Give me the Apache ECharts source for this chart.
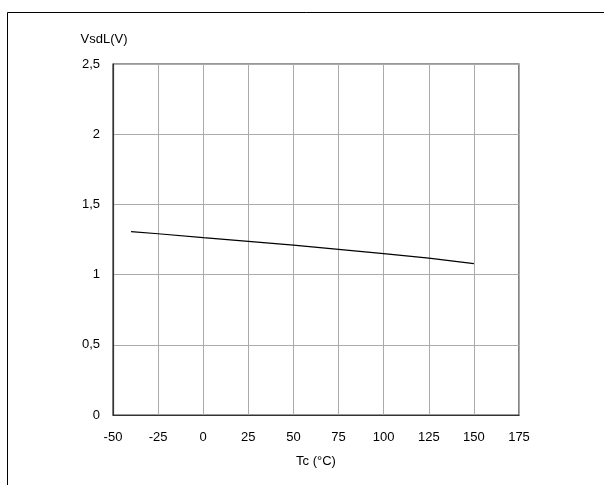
<!DOCTYPE html>
<html>
<head>
<meta charset="utf-8">
<script src="https://cdn.jsdelivr.net/npm/echarts@6/dist/echarts.min.js"></script>
<style>html,body{margin:0;padding:0;background:#fff}#c{width:604px;height:485px}</style>
</head>
<body>
<div id="c"></div>
<script>
var temps = [-40, -25, 0, 25, 50, 75, 100, 125, 150];
var vsdl = [1.306, 1.291, 1.263, 1.237, 1.21, 1.18, 1.15, 1.118, 1.078];
var xName = 'Tc (°C)';
var yName = 'VsdL(V)';

var chart = echarts.init(document.getElementById('c'));
var font = 'Liberation Sans, Arial, Helvetica, sans-serif';
chart.setOption({
  animation: false,
  backgroundColor: '#fff',
  graphic: [{
    type: 'rect', left: 5, top: 10, silent: true,
    shape: {width: 700, height: 600},
    style: {fill: 'none', stroke: '#000', lineWidth: 1}
  }],
  grid: {left: 113, right: 85, top: 64, bottom: 70, show: true, borderColor: '#333', borderWidth: 1.2, backgroundColor: 'transparent'},
  xAxis: {
    type: 'value', min: -50, max: 175, interval: 25,
    name: xName, nameLocation: 'middle', nameGap: 40,
    nameTextStyle: {fontFamily: font, fontSize: 13, color: '#000'},
    axisLine: {show: true, onZero: false, lineStyle: {color: '#333', width: 1.2}},
    axisTick: {show: false},
    axisLabel: {fontFamily: font, fontSize: 13, color: '#000', margin: 16},
    splitLine: {show: true, lineStyle: {color: '#aaa', width: 1}}
  },
  yAxis: {
    type: 'value', min: 0, max: 2.5, interval: 0.5,
    name: yName, nameLocation: 'end', nameGap: 18,
    nameTextStyle: {fontFamily: font, fontSize: 13, color: '#000', align: 'center', padding: [0, 18, 0, 0]},
    axisLine: {show: true, onZero: false, lineStyle: {color: '#333', width: 1.2}},
    axisTick: {show: false},
    axisLabel: {fontFamily: font, fontSize: 13, color: '#000', margin: 13,
      formatter: function (v) { return String(v).replace('.', ','); }},
    splitLine: {show: true, lineStyle: {color: '#aaa', width: 1}}
  },
  series: [{
    type: 'line',
    data: temps.map(function (t, i) { return [t, vsdl[i]]; }),
    showSymbol: false, symbol: 'none',
    lineStyle: {color: '#000', width: 1.2}
  }]
});
</script>
</body>
</html>
